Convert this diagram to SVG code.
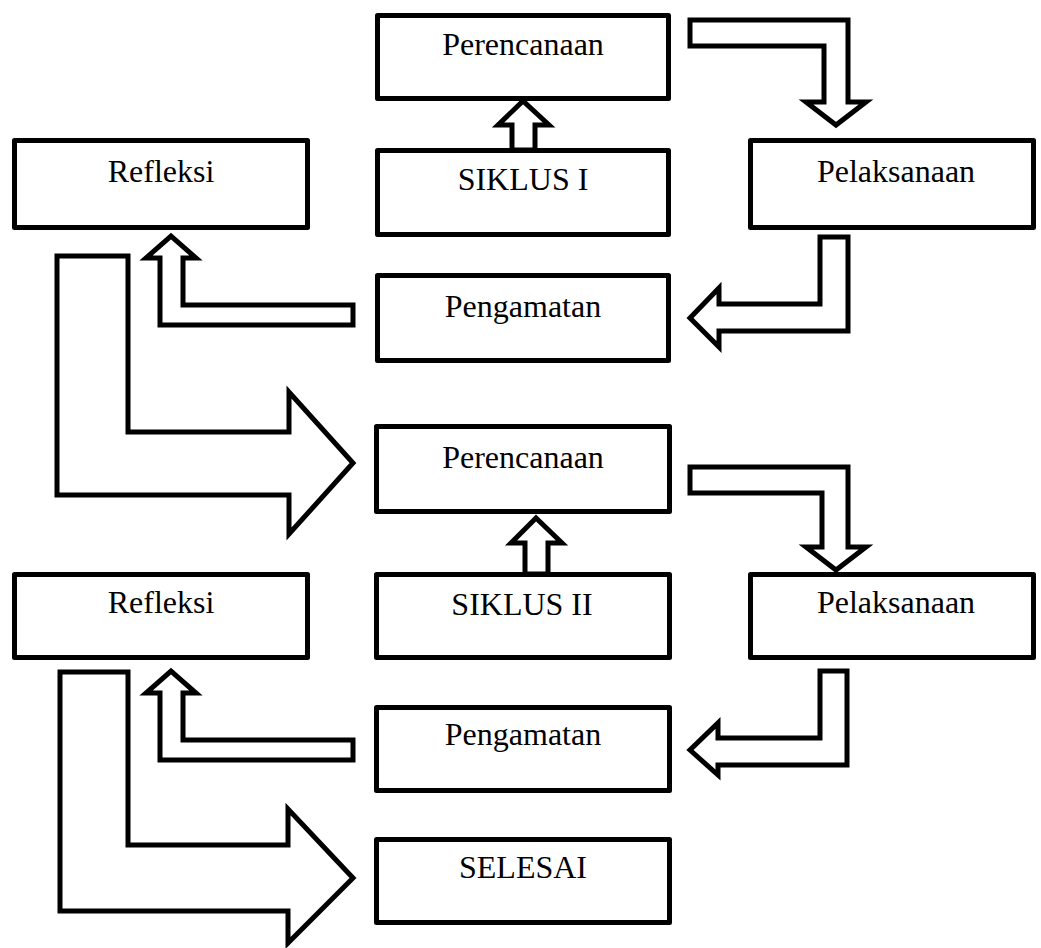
<svg xmlns="http://www.w3.org/2000/svg" width="1041" height="948" viewBox="0 0 1041 948">
<style>
.box{fill:#fff;stroke:#000;stroke-width:5;stroke-linejoin:round}
.arr{fill:#fff;stroke:#000;stroke-width:5;stroke-linejoin:miter;stroke-miterlimit:10}
.t{font-family:"Liberation Serif","Times New Roman",serif;font-size:32px;fill:#000;text-anchor:middle}
</style>
<rect width="1041" height="948" fill="#fff"/>
<g id="connectors">
<path class="arr" d="M512,150 V125 H498 L523,101 L549,125 H535 V150 Z"/>
<path class="arr" d="M690,20 H848 V102 H866 L836,125 L806,102 H824 V46 H690 Z"/>
<path class="arr" d="M820,237 H848 V331 H719 V347 L690,318 L719,288 V304 H820 Z"/>
<path class="arr" d="M353,305 H183 V258 H196 L171,236 L146,258 H160 V325 H353 Z"/>
<path class="arr" d="M57,256 H128 V432 H289 V392 L353,463 L289,534 V495 H57 Z"/>
<path class="arr" d="M525,574 V543 H511 L536,518 L562,543 H548 V574 Z"/>
<path class="arr" d="M690,467 H848 V547 H866 L836,570 L806,547 H822 V493 H690 Z"/>
<path class="arr" d="M820,671 H847 V765 H718 V775 L690,750 L718,723 V738 H820 Z"/>
<path class="arr" d="M353,740 H183 V693 H196 L171,671 L146,693 H160 V760 H353 Z"/>
<path class="arr" d="M60,672 H128 V845 H288 V809 L353,878 L288,943 V911 H60 Z"/>
</g>
<g id="perencanaan1"><rect class="box" x="377.5" y="15.5" width="291" height="83"/><text class="t" x="523" y="55">Perencanaan</text></g>
<g id="siklus1"><rect class="box" x="377.5" y="150.5" width="291" height="84"/><text class="t" x="523" y="190">SIKLUS I</text></g>
<g id="refleksi1"><rect class="box" x="14.5" y="140.5" width="293" height="87"/><text class="t" x="161" y="182">Refleksi</text></g>
<g id="pelaksanaan1"><rect class="box" x="750.5" y="140.5" width="283" height="87"/><text class="t" x="896" y="182">Pelaksanaan</text></g>
<g id="pengamatan1"><rect class="box" x="377.5" y="275.5" width="291" height="85"/><text class="t" x="523" y="317">Pengamatan</text></g>
<g id="perencanaan2"><rect class="box" x="376.5" y="426.5" width="293" height="85"/><text class="t" x="523" y="468">Perencanaan</text></g>
<g id="siklus2"><rect class="box" x="376.5" y="574.5" width="293" height="83"/><text class="t" x="522" y="615">SIKLUS II</text></g>
<g id="refleksi2"><rect class="box" x="14.5" y="574.5" width="293" height="83"/><text class="t" x="161" y="613">Refleksi</text></g>
<g id="pelaksanaan2"><rect class="box" x="750.5" y="574.5" width="283" height="83"/><text class="t" x="896" y="613">Pelaksanaan</text></g>
<g id="pengamatan2"><rect class="box" x="376.5" y="707.5" width="293" height="83"/><text class="t" x="523" y="745">Pengamatan</text></g>
<g id="selesai"><rect class="box" x="376.5" y="839.5" width="293" height="83"/><text class="t" x="523" y="878">SELESAI</text></g>
</svg>
